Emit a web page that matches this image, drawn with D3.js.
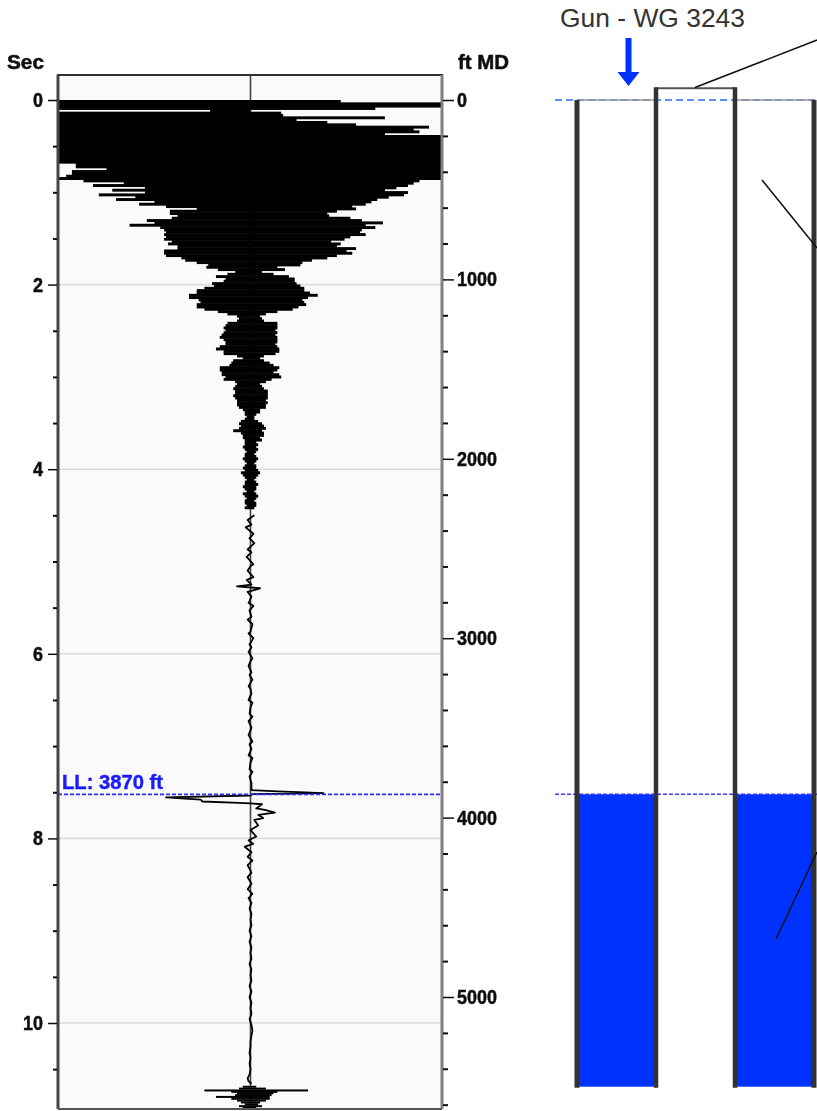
<!DOCTYPE html>
<html>
<head>
<meta charset="utf-8">
<script src="https://cdn.jsdelivr.net/npm/d3@7"></script>
<style>
  html, body { margin: 0; padding: 0; background: #fff; }
  svg { display: block; }
  text { font-family: "Liberation Sans", Arial, sans-serif; }
</style>
</head>
<body>
<svg id="chart" width="817" height="1111"></svg>
<script>
// acoustic trace, dense part: swing to each side per sample, % of half width
const sampleStep = 0.0253;
const swingLeft = [100,100,100,100,21,100,100,100,100,100,100,100,100,100,100,100,100,100,100,100,100,100,100,100,100,100,100,91,91,75,93,93,96,100,
  87,66,82,55,72,55,79,60,70,50,58,44,28,42,42,38,41,54,50,63,47,45,44,45,44,45,41,43,38,38,45,45,44,36,34,28,22,23,17,8,12,18,13,14,20,19,24,28,28,32,32,27,26,28,28,24,17,12,7,6,
  7,12,13,14,13,14,15,16,14,13,13,16,18,14,14,7,4,9,10,11,16,16,15,15,13,14,8,7,8,9,8,8,9,8,7,7,7,6,4,3,3,2,3,5,6,5,6,9,5,4,4,3,3,
  3,4,3,2,3,3,4,3,2,3,4,3,5,4,3,2,3,3,4,3,2,4,3,2,3,3,2,3];
const swingRight = [47,100,100,65,0,16,17,70,24,40,55,93,85,88,70,100,100,100,100,100,100,100,100,100,100,100,100,100,100,100,100,100,100,100,
  88,85,82,76,70,82,80,72,66,63,60,53,55,45,40,41,52,58,69,60,65,58,57,60,52,49,42,47,45,55,50,53,45,40,32,27,26,14,18,6,12,20,23,23,24,26,28,28,31,35,30,27,28,29,25,22,14,8,5,6,
  7,14,14,14,13,14,13,14,14,14,13,14,15,15,13,7,5,7,10,12,15,14,12,15,16,11,8,5,6,7,9,9,9,9,8,9,8,8,5,5,3,2,2,4,6,7,8,6,7,7,5,6,3,
  4,3,4,3,2,3,4,3,2,3,3,4,5,4,3,2,3,4,3,3,2,3,4,3,2,3,3,2];

// single wiggle between the dense part and the fluid shot
const quietTimes = [4.5,4.55,4.6,4.63,4.7,4.75,4.8,4.87,4.9,4.95,5.03,5.05,5.1,5.17,5.2,5.25,5.27,5.29,5.33,5.38,5.45,5.48,5.53,5.6,5.63,5.68,5.76,5.78,5.83,5.9,5.93,5.98,6.05,6.08,6.13,6.2,6.23,6.28,6.35,6.38,6.43,6.5,6.53,6.58,6.65,6.68,6.73,6.8,6.83,6.88,6.95,6.98,7.03,7.1,7.13,7.18,7.25,7.28,7.33,7.4];
const quietAmps = [2,-1.5,0.5,-2.5,1.5,-0.5,2,-1.5,0.5,-2,1.5,0,-1.5,1.5,-2,0.5,-7,5,-1.5,0.5,-1,1.5,-0.5,0.5,-1.5,1,0,-1,1.5,-0.5,0.5,-1,1,0,-1,0.5,-0.5,1,-1,0,0.5,-1,1,0,-0.5,1,-1,0.5,0,-1,1,-0.5,0.5,-1,1,0,-0.5,1,-0.5,0.5];

// the liquid level kick and what follows it
const kickTimes = [7.476,7.49,7.51,7.52,7.535,7.555,7.58,7.6,7.615,7.62,7.63,7.675,7.69,7.72,7.745,7.78,7.8,7.86,7.91,7.98,8.02,8.06,8.09,8.15,8.2,8.24,8.29,8.37,8.42,8.49,8.55,8.6,8.65];
const kickAmps = [0.5,14,38,1,0,-44,-26,-25,-6,0,6,3,7.5,12.7,4,6.6,2,4,0,3,-1,1.4,-3,0.5,-1.5,1,-1.5,0.5,-1.5,0.5,-1.5,1,-1];
const settleTimes = [8.7,8.76,8.82,8.88,8.94,9,9.06,9.12,9.18,9.24,9.3,9.36,9.42,9.48,9.54,9.6,9.66,9.72,9.78,9.84,9.9,9.96,10.02,10.08,10.14,10.2,10.26,10.32,10.38,10.44,10.5,10.56,10.6,10.63,10.66];
const settleAmps = [0.5,-0.5,0.5,0,0.5,-0.5,0.5,-0.5,0.5,0,0.5,-0.5,0.5,0,0.5,-0.5,0.5,-0.5,0.5,0,0.5,-0.5,0.5,1,0.5,0,0,-0.5,0,-0.5,0,-0.5,-1.5,-1,0.5];

// end of the record, echo of the gun at the bottom
const tailTimes = [10.68,10.7,10.72,10.735,10.75,10.77,10.79,10.81,10.83,10.85,10.87,10.89,10.91,10.93,10.95];
const tailLeft = [4,6,24,10,7,8,18,10,7,5,3,6,4,2,2];
const tailRight = [3,8,30,14,12,11,10,10,8,5,4,6,3,2,2];

const secMajor = [0,2,4,6,8,10];
const secMinor = [0.5,1,1.5,2.5,3,3.5,4.5,5,5.5,6.5,7,7.5,8.5,9,9.5,10.5,11];
const ftMajor = [0,1000,2000,3000,4000,5000];
const ftMinor = [200,400,600,800,1200,1400,1600,1800,2200,2400,2600,2800,3200,3400,3600,3800,4200,4400,4600,4800,5200,5400,5600];

const liquidLevel = 3870;
const wellBottom = 5500;
const tubingTop = -65;
const casingOffsets = [-3, 3];
const tubingOffsets = [-1, 1];

const svg = d3.select('#chart');
const panel = {left: 58, right: 442, top: 75, bottom: 1109};

var xScale = d3.scaleLinear().domain([-100, 100]).range([58.5, 442.5]);
var yScale = d3.scaleLinear().domain([0, 10]).range([100, 1023]);
var ftScale = d3.scaleLinear().domain([0, 5000]).range([100, 997]);
var wellX = d3.scaleLinear().domain([-1, 1]).range([656, 735]);

const defs = svg.append('defs');
defs.append('filter').attr('id', 'soft')
  .attr('x', '-5%').attr('y', '-5%').attr('width', '110%').attr('height', '110%')
  .append('feGaussianBlur').attr('stdDeviation', 0.45);
defs.append('clipPath').attr('id', 'panel')
  .append('rect').attr('x', panel.left).attr('y', panel.top)
  .attr('width', panel.right - panel.left).attr('height', panel.bottom - panel.top);

const plot = svg.append('g').attr('filter', 'url(#soft)');

plot.append('rect')
  .attr('x', panel.left).attr('y', panel.top)
  .attr('width', panel.right - panel.left).attr('height', panel.bottom - panel.top)
  .attr('fill', '#fafafa');

// grid
plot.selectAll('.grid').data(secMajor.slice(1)).enter().append('line')
  .attr('x1', panel.left).attr('x2', panel.right)
  .attr('y1', d => yScale(d)).attr('y2', d => yScale(d))
  .attr('stroke', '#dcdcdc').attr('stroke-width', 1.6);

plot.append('line')
  .attr('x1', xScale(0)).attr('x2', xScale(0)).attr('y1', panel.top).attr('y2', panel.bottom)
  .attr('stroke', '#444').attr('stroke-width', 1.6);

const trace = plot.append('g').attr('clip-path', 'url(#panel)');

// dense rows of the trace
trace.selectAll('.swing').data(swingLeft).enter().append('rect')
  .attr('x', d => xScale(-d))
  .attr('width', (d, i) => xScale(swingRight[i]) - xScale(-d))
  .attr('y', (d, i) => yScale(i * sampleStep))
  .attr('height', yScale(sampleStep) - yScale(0) + 0.6)
  .attr('fill', '#000');

// the quiet wiggle
var wiggle = [];
quietTimes.forEach((t, i) => wiggle.push([quietAmps[i], t]));
kickTimes.forEach((t, i) => wiggle.push([kickAmps[i], t]));
settleTimes.forEach((t, i) => wiggle.push([settleAmps[i], t]));

var traceLine = d3.line().x(d => xScale(d[0])).y(d => yScale(d[1]));

trace.append('path')
  .datum(wiggle)
  .attr('fill', 'none')
  .attr('stroke', '#000')
  .attr('stroke-width', 1.8)
  .attr('stroke-linejoin', 'round')
  .attr('d', traceLine);

// tail rows
trace.selectAll('.tail').data(tailTimes).enter().append('rect')
  .attr('x', (d, i) => xScale(-tailLeft[i]))
  .attr('width', (d, i) => xScale(tailRight[i]) - xScale(-tailLeft[i]))
  .attr('y', d => yScale(d))
  .attr('height', 2)
  .attr('fill', '#000');

// liquid level marker
plot.append('line')
  .attr('x1', panel.left).attr('x2', panel.right)
  .attr('y1', ftScale(liquidLevel)).attr('y2', ftScale(liquidLevel))
  .attr('stroke', '#2a2aff').attr('stroke-width', 1.8).attr('stroke-dasharray', '4 2');
plot.append('text')
  .attr('x', 62).attr('y', ftScale(liquidLevel) - 5)
  .attr('fill', '#1a1aff').attr('stroke', '#1a1aff').attr('stroke-width', 0.4)
  .attr('font-weight', 'bold').attr('font-size', 20)
  .attr('textLength', 101).attr('lengthAdjust', 'spacingAndGlyphs')
  .text('LL: ' + liquidLevel + ' ft');

// frame
plot.append('line').attr('x1', panel.left - 1).attr('x2', panel.right + 1).attr('y1', panel.top).attr('y2', panel.top)
  .attr('stroke', '#333').attr('stroke-width', 2);
plot.append('line').attr('x1', panel.left).attr('x2', panel.left).attr('y1', panel.top).attr('y2', panel.bottom)
  .attr('stroke', '#444').attr('stroke-width', 3);
plot.append('line').attr('x1', panel.right).attr('x2', panel.right).attr('y1', panel.top).attr('y2', panel.bottom)
  .attr('stroke', '#808080').attr('stroke-width', 3);
plot.append('line').attr('x1', panel.left).attr('x2', panel.right).attr('y1', panel.bottom).attr('y2', panel.bottom)
  .attr('stroke', '#555').attr('stroke-width', 2);

// axes
function styleAxis(g, width){
  g.select('.domain').remove();
  g.selectAll('.tick line').attr('stroke', '#111').attr('stroke-width', width);
  g.selectAll('.tick text')
    .attr('font-family', '"Liberation Sans", Arial, sans-serif')
    .attr('font-weight', 'bold').attr('font-size', 20).attr('fill', '#111')
    .attr('stroke', '#111').attr('stroke-width', 0.5)
    .attr('textLength', d => String(d).length * 10).attr('lengthAdjust', 'spacingAndGlyphs');
}

plot.append('g').attr('transform', `translate(${panel.left - 1}, 0)`)
  .call(d3.axisLeft(yScale).tickValues(secMajor).tickSize(9).tickPadding(5).tickFormat(d3.format('d')))
  .call(g => styleAxis(g, 1.5));
plot.append('g').attr('transform', `translate(${panel.left - 1}, 0)`)
  .call(d3.axisLeft(yScale).tickValues(secMinor.filter(d => yScale(d) < panel.bottom)).tickSize(4).tickFormat(''))
  .call(g => styleAxis(g, 2));
plot.append('g').attr('transform', `translate(${panel.right + 1}, 0)`)
  .call(d3.axisRight(ftScale).tickValues(ftMajor).tickSize(11).tickPadding(3).tickFormat(d3.format('d')))
  .call(g => styleAxis(g, 1.5));
plot.append('g').attr('transform', `translate(${panel.right + 1}, 0)`)
  .call(d3.axisRight(ftScale).tickValues(ftMinor.filter(d => ftScale(d) < panel.bottom)).tickSize(5).tickFormat(''))
  .call(g => styleAxis(g, 2));

plot.append('text').attr('x', 7).attr('y', 69)
  .attr('font-weight', 'bold').attr('font-size', 20).attr('fill', '#111')
  .attr('stroke', '#111').attr('stroke-width', 0.5)
  .attr('textLength', 37).attr('lengthAdjust', 'spacingAndGlyphs').text('Sec');
plot.append('text').attr('x', 458).attr('y', 69)
  .attr('font-weight', 'bold').attr('font-size', 20).attr('fill', '#111')
  .attr('stroke', '#111').attr('stroke-width', 0.5)
  .attr('textLength', 51).attr('lengthAdjust', 'spacingAndGlyphs').text('ft MD');

// wellbore sketch on the right
const well = svg.append('g').attr('filter', 'url(#soft)');

well.append('line')
  .attr('x1', 555).attr('x2', 817).attr('y1', ftScale(0)).attr('y2', ftScale(0))
  .attr('stroke', '#5b8ff0').attr('stroke-width', 2).attr('stroke-dasharray', '7 4');

// annulus fluid
[[-3, -1], [1, 3]].forEach(function(pair){
  well.append('rect')
    .attr('x', wellX(pair[0])).attr('width', wellX(pair[1]) - wellX(pair[0]))
    .attr('y', ftScale(liquidLevel)).attr('height', ftScale(wellBottom) - ftScale(liquidLevel))
    .attr('fill', '#0033ff');
});

well.append('line')
  .attr('x1', 555).attr('x2', 817).attr('y1', ftScale(liquidLevel)).attr('y2', ftScale(liquidLevel))
  .attr('stroke', '#3a3aff').attr('stroke-width', 1.6).attr('stroke-dasharray', '4 2');

// casing head and tubing cap
[[-3, -1], [1, 3]].forEach(function(pair){
  well.append('line')
    .attr('x1', wellX(pair[0])).attr('x2', wellX(pair[1]))
    .attr('y1', ftScale(0)).attr('y2', ftScale(0))
    .attr('stroke', '#999').attr('stroke-width', 1.5);
});
well.append('line')
  .attr('x1', wellX(-1)).attr('x2', wellX(1))
  .attr('y1', ftScale(tubingTop)).attr('y2', ftScale(tubingTop))
  .attr('stroke', '#555').attr('stroke-width', 2);

well.selectAll('.casing').data(casingOffsets).enter().append('line')
  .attr('x1', d => wellX(d)).attr('x2', d => wellX(d))
  .attr('y1', ftScale(0)).attr('y2', ftScale(wellBottom) + 1)
  .attr('stroke', '#333').attr('stroke-width', 5);
well.selectAll('.tubing').data(tubingOffsets).enter().append('line')
  .attr('x1', d => wellX(d)).attr('x2', d => wellX(d))
  .attr('y1', ftScale(tubingTop) - 1).attr('y2', ftScale(wellBottom) + 1)
  .attr('stroke', '#333').attr('stroke-width', 4.5);

// gun arrow
const gunX = 628.5;
well.append('rect').attr('x', gunX - 3).attr('y', 38).attr('width', 6).attr('height', 36).attr('fill', '#0033ff');
well.append('path')
  .attr('d', d3.line()([[gunX - 11, 72], [gunX + 11, 72], [gunX, 86]]))
  .attr('fill', '#0033ff');

// callout leaders running off the page
const leaders = [[[695, 87.5], [817, 40]], [[762, 180], [817, 248]], [[776, 939], [817, 852]]];
well.selectAll('.leader').data(leaders).enter().append('path')
  .attr('d', d => d3.line()(d))
  .attr('fill', 'none').attr('stroke', '#111').attr('stroke-width', 1.5);

svg.append('text').attr('x', 560).attr('y', 26.5)
  .attr('font-size', 26).attr('fill', '#333')
  .attr('textLength', 185).attr('lengthAdjust', 'spacingAndGlyphs').text('Gun - WG 3243');
</script>
</body>
</html>
